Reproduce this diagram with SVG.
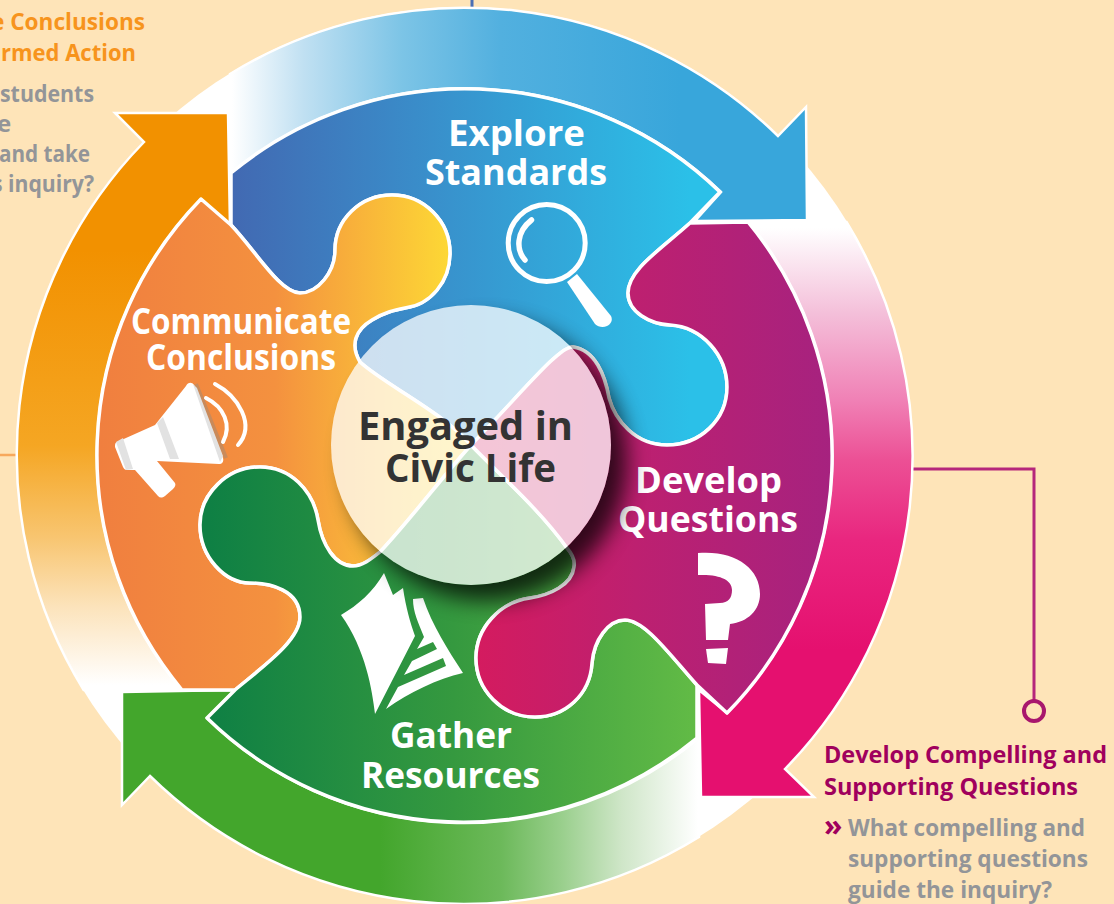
<svg xmlns="http://www.w3.org/2000/svg" width="1114" height="904" viewBox="0 0 1114 904">
<style>
text{font-family:"Open Sans","Liberation Sans",sans-serif;font-weight:700}
.lbl{fill:#fff;font-size:36px;text-anchor:middle}
.ctr{fill:#333;font-size:39px;text-anchor:middle}
.org{fill:#f7941d;font-size:24px}
.gry{fill:#939598;font-size:24px}
.mag{fill:#a0005d;font-size:24px}
.band{stroke:#fff;stroke-width:2.5;stroke-linejoin:miter}
.pc{stroke:#fff;stroke-width:3.5;stroke-linejoin:round}
.ic{fill:#fff}
</style>
<defs>
<linearGradient id="bBlue" gradientUnits="userSpaceOnUse" x1="232" y1="0" x2="680" y2="0"><stop offset="0" stop-color="#fff"/><stop offset=".16" stop-color="#c0e0f2"/><stop offset=".38" stop-color="#7cc4e6"/><stop offset=".6" stop-color="#52b0df"/><stop offset="1" stop-color="#38a6db"/></linearGradient>
<linearGradient id="bPink" gradientUnits="userSpaceOnUse" x1="0" y1="228" x2="0" y2="650"><stop offset="0" stop-color="#fff"/><stop offset=".2" stop-color="#f4c0da"/><stop offset=".41" stop-color="#f080b5"/><stop offset=".55" stop-color="#ec5095"/><stop offset=".74" stop-color="#e9267f"/><stop offset="1" stop-color="#e5106f"/></linearGradient>
<linearGradient id="bGreen" gradientUnits="userSpaceOnUse" x1="380" y1="0" x2="698" y2="0"><stop offset="0" stop-color="#43a62c"/><stop offset=".38" stop-color="#6cb95a"/><stop offset=".57" stop-color="#99cf8c"/><stop offset=".76" stop-color="#cfe6c8"/><stop offset="1" stop-color="#fff"/></linearGradient>
<linearGradient id="bOrange" gradientUnits="userSpaceOnUse" x1="0" y1="250" x2="0" y2="685"><stop offset="0" stop-color="#f29100"/><stop offset=".45" stop-color="#f5a623"/><stop offset=".66" stop-color="#f8c570"/><stop offset=".82" stop-color="#fce3bb"/><stop offset="1" stop-color="#fff"/></linearGradient>
<linearGradient id="pBlue" gradientUnits="userSpaceOnUse" x1="231" y1="0" x2="690" y2="0"><stop offset="0" stop-color="#4269b2"/><stop offset=".4" stop-color="#3a8cc9"/><stop offset="1" stop-color="#2bc0e8"/></linearGradient>
<linearGradient id="pOrange" gradientUnits="userSpaceOnUse" x1="100" y1="0" x2="450" y2="0"><stop offset="0" stop-color="#f07f3f"/><stop offset=".5" stop-color="#f4913f"/><stop offset="1" stop-color="#fdd835"/></linearGradient>
<linearGradient id="pGreen" gradientUnits="userSpaceOnUse" x1="210" y1="0" x2="697" y2="0"><stop offset="0" stop-color="#0f8044"/><stop offset=".5" stop-color="#35993f"/><stop offset="1" stop-color="#62bb46"/></linearGradient>
<linearGradient id="pPink" gradientUnits="userSpaceOnUse" x1="476" y1="0" x2="832" y2="0"><stop offset="0" stop-color="#d41b5f"/><stop offset=".45" stop-color="#bd2070"/><stop offset="1" stop-color="#a6227f"/></linearGradient>
<filter id="blur" x="-30%" y="-30%" width="160%" height="160%"><feGaussianBlur stdDeviation="11"/></filter>
<mask id="outside" maskUnits="userSpaceOnUse" x="0" y="0" width="1114" height="904"><rect width="1114" height="904" fill="#fff"/><circle cx="471" cy="445" r="140" fill="#000"/></mask>
</defs>

<rect id="background" width="1114" height="904" fill="#fee4b8"/>

<g id="connectors" fill="none">
<path d="M472,0V10" stroke="#4a6fb5" stroke-width="3"/>
<path d="M0,455H18" stroke="#f7a85c" stroke-width="2.5"/>
<path d="M910,469H1034V701" stroke="#b5267b" stroke-width="3"/>
<circle cx="1034" cy="711" r="10" stroke="#a8176d" stroke-width="4"/>
</g>

<g id="ring">
<circle cx="464.5" cy="455" r="448" fill="#fff"/>
<path id="arrow-blue" class="band" fill="url(#bBlue)" d="M230,74A447.5,447.5 0 0 1 778,136L806,107L807,220L695,221L721,192A367,367 0 0 0 231,173Z"/>
<path id="arrow-pink" class="band" fill="url(#bPink)" d="M846.5,222A447.5,447.5 0 0 1 785,769L814,797L701,797L699,690L727,713A367,367 0 0 0 748,222Z"/>
<path id="arrow-green" class="band" fill="url(#bGreen)" d="M699,738A367,367 0 0 1 207,718L235,690L122,692L122,805L150,776A447.5,447.5 0 0 0 699,837Z"/>
<path id="arrow-orange" class="band" fill="url(#bOrange)" d="M182,690A367,367 0 0 1 201,199L230,228L228,113L115,113L144,142A447.5,447.5 0 0 0 83.7,690Z"/>
</g>

<g id="node-explore">
<path class="pc" fill="url(#pBlue)" d="M231,173A367,367 0 0 1 720,192L690,223C660,250 628,270 628,293C628,312 650,324 670,325C702,327 727,355 727,387C727,420 700,445 667,445C635,445 615,420 609,398C605,375 595,350 573,347C560,345 520,395 471,445C440,410 385,385 360,362C350,345 355,330 372,320C385,312 395,310 405,308C430,305 450,282 450,253C450,221 424,195 392,195C360,195 335,220 335,250C335,272 318,293 300,293C280,293 255,250 231,225Z"/>
<circle cx="546.7" cy="243" r="38.5" fill="none" stroke="#fff" stroke-width="5"/>
<path d="M531.5,220C516,232 516,250 525,260" fill="none" stroke="#fff" stroke-width="5.5" stroke-linecap="round"/>
<path class="ic" d="M567,282L577,274L611,316C613,320 611,324 607,326C603,328 598,327 595,324Z"/>
<text class="lbl" x="516.5" y="146" textLength="137" lengthAdjust="spacingAndGlyphs">Explore</text>
<text class="lbl" x="516" y="185" textLength="182" lengthAdjust="spacingAndGlyphs">Standards</text>
</g>

<g id="node-communicate">
<path class="pc" fill="url(#pOrange)" d="M201,199L231,225C255,250 280,293 300,293C318,293 335,272 335,250C335,220 360,195 392,195C424,195 450,221 450,253C450,282 430,305 405,308C395,310 385,312 372,320C355,330 350,345 360,362C385,385 440,410 471,445C440,480 410,520 380,552C370,560 362,566 353,566C335,566 322,545 318,520C313,490 290,467 260,467C227,467 200,494 200,525C200,557 225,583 250,583C270,583 300,590 300,617C300,640 265,665 235,690L182,690A367,367 0 0 1 201,199Z"/>
<path d="M196,384L226,458" fill="none" stroke="#c98a5a" stroke-width="4"/>
<path class="ic" d="M117,442L155,425L186,386C188,382 192,382 194,385L223,458C224,462 222,464 219,464L157,461L175,483C176,485 175,487 173,489L165,496C162,498 160,498 158,496L135,470L127,470C125,470 124,469 123,467L115,447C115,444 115,443 117,442Z"/>
<path d="M116,442L123,438L133,469L126,470Z M157,423L163,417L179,459L170,459Z M193,384L197,388L223,456L220,462Z" fill="#e2e2e2"/>
<path d="M215,384C238,396 256,425 238,445M206,398C224,407 232,425 223,442" fill="none" stroke="#fff" stroke-width="4" stroke-linecap="round"/>
<text class="lbl" x="241" y="334" textLength="220" lengthAdjust="spacingAndGlyphs">Communicate</text>
<text class="lbl" x="241" y="370" textLength="190" lengthAdjust="spacingAndGlyphs">Conclusions</text>
</g>

<g id="node-gather">
<path class="pc" fill="url(#pGreen)" d="M207,718L235,690C265,665 300,640 300,617C300,590 270,583 250,583C225,583 200,557 200,525C200,494 227,467 260,467C290,467 313,490 318,520C322,545 335,566 353,566C362,566 370,560 380,552C410,520 440,480 471,445C500,475 540,510 567,548C574,556 575,562 574,567C572,585 550,595 530,598C500,602 476,628 476,658C476,690 502,717 535,717C565,717 590,695 592,663C594,640 608,620 625,620C645,620 670,655 697,685L697,738A367,367 0 0 1 207,718Z"/>
<path class="ic" d="M384,573L393,595L403,588C406,608 410,622 415,636L375,714C372,690 366,650 341,615C358,605 373,592 384,573Z"/>
<path class="ic" d="M413,599L423,598C432,625 448,650 463,673C437,679 410,692 386,709L398,687L446,666L443,658L404,675L412,661L437,649L433,642L417,649L424,637C418,622 413,612 413,599Z"/>
<text class="lbl" x="451" y="748" textLength="122" lengthAdjust="spacingAndGlyphs">Gather</text>
<text class="lbl" x="450.5" y="788" textLength="179" lengthAdjust="spacingAndGlyphs">Resources</text>
</g>

<g id="node-develop">
<path class="pc" fill="url(#pPink)" d="M748,222A367,367 0 0 1 727,713L697,685C670,655 645,620 625,620C608,620 594,640 592,663C590,695 565,717 535,717C502,717 476,690 476,658C476,628 500,602 530,598C550,595 572,585 574,567C575,562 574,556 567,548C540,510 500,475 471,445C520,395 560,345 573,347C595,350 605,375 609,398C615,420 635,445 667,445C700,445 727,420 727,387C727,355 702,327 670,325C650,324 628,312 628,293C628,270 660,250 690,223Z"/>
<path class="ic" d="M698,553C735,550 760,568 760,594C760,610 748,622 730,624L728,640L706,640L705,604L720,603C728,603 732,598 732,590C732,580 720,574 698,575Z"/>
<path class="ic" d="M706,649L728,648L726,664L708,663Z"/>
<text class="lbl" x="708.5" y="493" textLength="147" lengthAdjust="spacingAndGlyphs">Develop</text>
<text class="lbl" x="708" y="532" textLength="180" lengthAdjust="spacingAndGlyphs">Questions</text>
</g>

<g id="node-center">
<circle cx="487" cy="461" r="140" fill="#000" opacity=".75" filter="url(#blur)" mask="url(#outside)"/>
<circle cx="471" cy="445" r="140" fill="#fff" opacity=".75"/>
<text class="ctr" x="465.5" y="440" textLength="215" lengthAdjust="spacingAndGlyphs">Engaged in</text>
<text class="ctr" x="470.5" y="482" textLength="171" lengthAdjust="spacingAndGlyphs">Civic Life</text>
</g>

<g id="note-conclusions">
<text class="org" x="-9" y="30" textLength="154" lengthAdjust="spacingAndGlyphs">e Conclusions</text>
<text class="org" x="1" y="61" textLength="135" lengthAdjust="spacingAndGlyphs">rmed Action</text>
<text class="gry" x="0" y="102" textLength="94" lengthAdjust="spacingAndGlyphs">students</text>
<text class="gry" x="-3" y="132">e</text>
<text class="gry" x="-1" y="162" textLength="91" lengthAdjust="spacingAndGlyphs">and take</text>
<text class="gry" x="-8" y="192" textLength="102" lengthAdjust="spacingAndGlyphs">s inquiry?</text>
</g>

<g id="note-questions">
<text class="mag" x="824" y="763" textLength="283" lengthAdjust="spacingAndGlyphs">Develop Compelling and</text>
<text class="mag" x="824" y="795" textLength="254" lengthAdjust="spacingAndGlyphs">Supporting Questions</text>
<text class="mag" x="824" y="836" font-size="30" style="font-size:30px">»</text>
<text class="gry" x="848" y="836" textLength="237" lengthAdjust="spacingAndGlyphs">What compelling and</text>
<text class="gry" x="848" y="867" textLength="240" lengthAdjust="spacingAndGlyphs">supporting questions</text>
<text class="gry" x="848" y="898" textLength="204" lengthAdjust="spacingAndGlyphs">guide the inquiry?</text>
</g>
</svg>
